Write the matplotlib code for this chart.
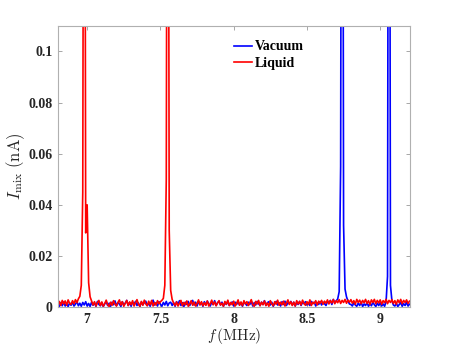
import numpy as np
import matplotlib
matplotlib.use('Agg')
import matplotlib.pyplot as plt

plt.rcParams['font.family'] = ['Liberation Serif', 'DejaVu Serif']
plt.rcParams['mathtext.fontset'] = 'cm'

# frequency sweep (MHz), 0.01 MHz step
freq = np.round(np.arange(6.80, 9.2001, 0.01), 2)

# I_mix (nA), one row per 0.1 MHz
liquid = [
    0.0008, 0.0022, 0.0006, 0.0026, 0.0012, 0.0024, 0.0007, 0.0028, 0.0015, 0.0010,
    0.0025, 0.0013, 0.0029, 0.0017, 0.0032, 0.0042, 0.0085, 0.0450, 0.3500, 0.0290,
    0.0400, 0.0095, 0.0040, 0.0024, 0.0008, 0.0021, 0.0004, 0.0017, 0.0026, 0.0006,
    0.0020, 0.0003, 0.0014, 0.0027, 0.0009, 0.0002, 0.0019, 0.0007, 0.0025, 0.0011,
    0.0004, 0.0018, 0.0028, 0.0008, 0.0021, 0.0003, 0.0015, 0.0026, 0.0006, 0.0020,
    0.0009, 0.0025, 0.0004, 0.0017, 0.0029, 0.0011, 0.0003, 0.0022, 0.0007, 0.0027,
    0.0012, 0.0005, 0.0023, 0.0009, 0.0026, 0.0004, 0.0018, 0.0008, 0.0025, 0.0013,
    0.0021, 0.0026, 0.0034, 0.0085, 0.0500, 0.3500, 0.0300, 0.0065, 0.0030, 0.0016,
    0.0006, 0.0020, 0.0004, 0.0015, 0.0026, 0.0005, 0.0018, 0.0009, 0.0024, 0.0003,
    0.0012, 0.0025, 0.0007, 0.0019, 0.0004, 0.0014, 0.0028, 0.0008, 0.0021, 0.0005,
    0.0017, 0.0007, 0.0024, 0.0004, 0.0013, 0.0027, 0.0009, 0.0020, 0.0005, 0.0016,
    0.0025, 0.0008, 0.0015, 0.0003, 0.0022, 0.0011, 0.0027, 0.0006, 0.0018, 0.0009,
    0.0023, 0.0004, 0.0014, 0.0028, 0.0007, 0.0020, 0.0005, 0.0025, 0.0012, 0.0021,
    0.0006, 0.0017, 0.0029, 0.0010, 0.0003, 0.0022, 0.0012, 0.0026, 0.0005, 0.0019,
    0.0009, 0.0024, 0.0006, 0.0016, 0.0003, 0.0025, 0.0013, 0.0005, 0.0021, 0.0011,
    0.0027, 0.0007, 0.0019, 0.0009, 0.0023, 0.0004, 0.0016, 0.0028, 0.0010, 0.0021,
    0.0006, 0.0019, 0.0004, 0.0025, 0.0012, 0.0022, 0.0008, 0.0027, 0.0014, 0.0007,
    0.0021, 0.0010, 0.0028, 0.0006, 0.0019, 0.0013, 0.0025, 0.0008, 0.0023, 0.0015,
    0.0026, 0.0011, 0.0023, 0.0015, 0.0028, 0.0012, 0.0025, 0.0016, 0.0029, 0.0013,
    0.0025, 0.0017, 0.0029, 0.0014, 0.0026, 0.0018, 0.0030, 0.0015, 0.0027, 0.0019,
    0.0029, 0.0015, 0.0025, 0.0011, 0.0030, 0.0018, 0.0027, 0.0013, 0.0026, 0.0017,
    0.0030, 0.0014, 0.0025, 0.0010, 0.0028, 0.0018, 0.0030, 0.0013, 0.0026, 0.0016,
    0.0028, 0.0011, 0.0025, 0.0017, 0.0030, 0.0013, 0.0026, 0.0018, 0.0029, 0.0014,
    0.0025, 0.0011, 0.0028, 0.0017, 0.0030, 0.0013, 0.0026, 0.0018, 0.0028, 0.0014,
    0.0023,
]

vacuum = [
    0.0010, 0.0003, 0.0017, 0.0005, 0.0020, 0.0004, 0.0013, 0.0002, 0.0016, 0.0007,
    0.0019, 0.0004, 0.0011, 0.0022, 0.0005, 0.0015, 0.0003, 0.0018, 0.0008, 0.0021,
    0.0004, 0.0014, 0.0002, 0.0019, 0.0007, 0.0016, 0.0003, 0.0022, 0.0010, 0.0005,
    0.0017, 0.0002, 0.0013, 0.0021, 0.0006, 0.0015, 0.0003, 0.0019, 0.0009, 0.0024,
    0.0005, 0.0017, 0.0012, 0.0002, 0.0021, 0.0008, 0.0015, 0.0026, 0.0006, 0.0018,
    0.0003, 0.0019, 0.0011, 0.0022, 0.0006, 0.0016, 0.0002, 0.0020, 0.0009, 0.0017,
    0.0023, 0.0006, 0.0015, 0.0003, 0.0019, 0.0027, 0.0008, 0.0017, 0.0004, 0.0021,
    0.0011, 0.0003, 0.0018, 0.0008, 0.0022, 0.0005, 0.0016, 0.0019, 0.0006, 0.0017,
    0.0003, 0.0021, 0.0011, 0.0025, 0.0006, 0.0017, 0.0002, 0.0019, 0.0010, 0.0022,
    0.0006, 0.0017, 0.0026, 0.0008, 0.0019, 0.0004, 0.0022, 0.0010, 0.0017, 0.0003,
    0.0021, 0.0008, 0.0023, 0.0013, 0.0004, 0.0019, 0.0010, 0.0025, 0.0006, 0.0017,
    0.0022, 0.0008, 0.0019, 0.0003, 0.0017, 0.0010, 0.0023, 0.0006, 0.0014, 0.0020,
    0.0004, 0.0019, 0.0010, 0.0022, 0.0008, 0.0017, 0.0003, 0.0021, 0.0013, 0.0006,
    0.0019, 0.0010, 0.0023, 0.0004, 0.0017, 0.0008, 0.0022, 0.0013, 0.0006, 0.0019,
    0.0010, 0.0025, 0.0006, 0.0017, 0.0021, 0.0008, 0.0019, 0.0003, 0.0014, 0.0022,
    0.0008, 0.0017, 0.0004, 0.0021, 0.0010, 0.0023, 0.0006, 0.0017, 0.0013, 0.0022,
    0.0008, 0.0019, 0.0004, 0.0017, 0.0010, 0.0022, 0.0006, 0.0019, 0.0013, 0.0021,
    0.0008, 0.0017, 0.0006, 0.0022, 0.0013, 0.0019, 0.0004, 0.0017, 0.0010, 0.0021,
    0.0008, 0.0019, 0.0013, 0.0006, 0.0021, 0.0017, 0.0026, 0.0010, 0.0030, 0.0017,
    0.0024, 0.0032, 0.0060, 0.0550, 0.4000, 0.0320, 0.0070, 0.0040, 0.0024, 0.0012,
    0.0010, 0.0004, 0.0017, 0.0008, 0.0003, 0.0015, 0.0006, 0.0019, 0.0002, 0.0012,
    0.0006, 0.0017, 0.0003, 0.0013, 0.0005, 0.0019, 0.0009, 0.0002, 0.0015, 0.0006,
    0.0017, 0.0004, 0.0012, 0.0003, 0.0020, 0.0120, 0.4000, 0.0085, 0.0024, 0.0008,
    0.0004, 0.0015, 0.0002, 0.0010, 0.0017, 0.0003, 0.0013, 0.0006, 0.0019, 0.0004,
    0.0011,
]

xticks = [7, 7.5, 8, 8.5, 9]
xticklabels = ['7', '7.5', '8', '8.5', '9']
yticks = [0, 0.02, 0.04, 0.06, 0.08, 0.1]
yticklabels = ['0', '0.02', '0.04', '0.06', '0.08', '0.1']

fig = plt.figure(figsize=(4.52, 3.45), dpi=100)
ax = fig.add_axes([0.128, 0.110, 0.778, 0.815])

ax.plot(freq, vacuum, color='#0000ff', lw=1.2, label='Vacuum')
ax.plot(freq, liquid, color='#ff0000', lw=1.2, label='Liquid')

ax.set_xlim(6.8, 9.2)
ax.set_ylim(0, 0.11)
ax.set_xticks(xticks)
ax.set_xticklabels(xticklabels, fontweight='bold')
ax.set_yticks(yticks)
ax.set_yticklabels(yticklabels, fontweight='bold')
ax.tick_params(direction='in', length=3, width=0.6, top=True, right=True,
               labelsize=10, labelcolor='#262626', color='#999999', pad=4)
for s in ax.spines.values():
    s.set_color('#b0b0b0')
    s.set_linewidth(0.8)

ax.set_xlabel(r'$f\,(\mathrm{MHz})$', fontsize=11, color='#262626', labelpad=0)
ax.set_ylabel(r'$I_{\mathrm{mix}}\ (\mathrm{nA})$', fontsize=12, color='#262626', labelpad=1)

leg = ax.legend(loc='upper left', bbox_to_anchor=(0.485, 0.968), frameon=False,
                prop={'weight': 'bold', 'size': 10}, handlelength=1.3,
                handletextpad=0.2, labelspacing=0.25, borderaxespad=0)

fig.savefig('out.png', dpi=100)
